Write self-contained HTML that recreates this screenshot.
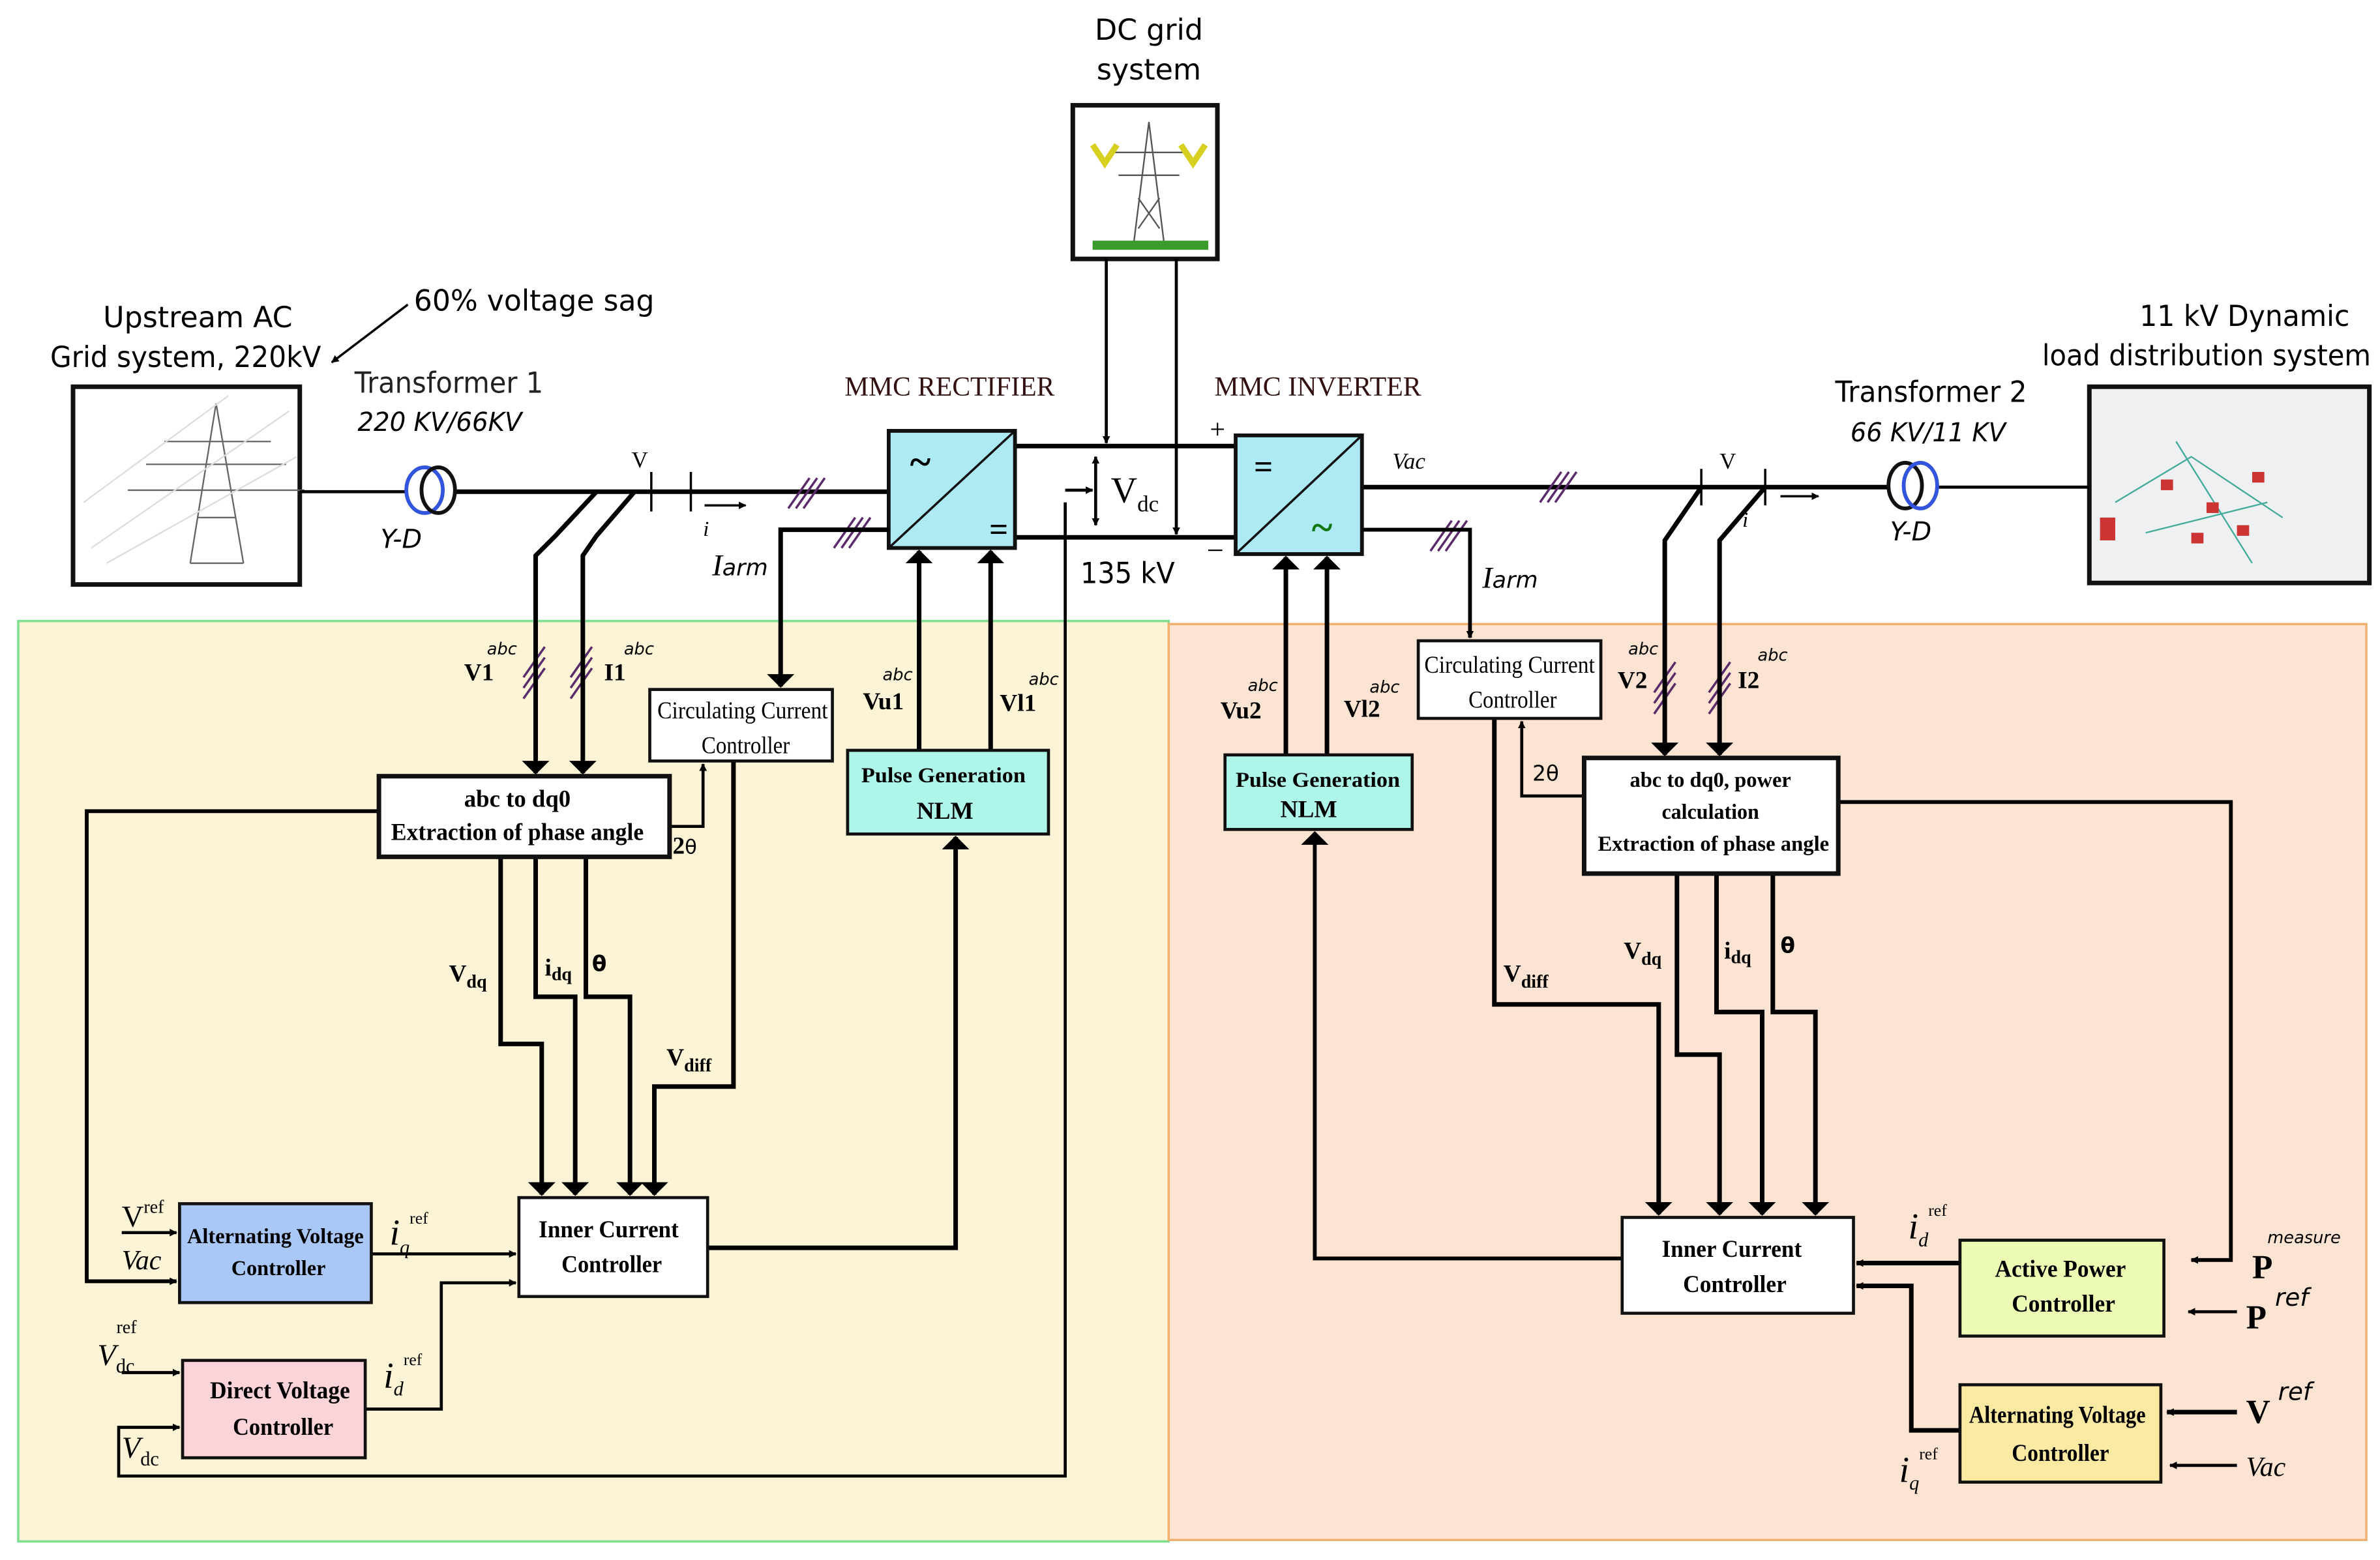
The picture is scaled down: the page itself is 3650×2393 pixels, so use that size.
<!DOCTYPE html>
<html><head><meta charset="utf-8"><style>
html,body{margin:0;padding:0;background:#fff}
svg{display:block}
text{font-family:"Liberation Serif",serif}
.s{font-family:"DejaVu Sans","Liberation Sans",sans-serif}
.b{font-weight:bold}
</style></head><body>
<svg width="3650" height="2393" viewBox="0 0 1564 1025" xmlns="http://www.w3.org/2000/svg">
<defs>
<marker id="a" viewBox="0 0 10 10" refX="9" refY="5" markerWidth="5" markerHeight="5" orient="auto-start-reverse" markerUnits="userSpaceOnUse"><path d="M0,0L10,5L0,10z" fill="#000"/></marker>
<marker id="A" viewBox="0 0 10 10" refX="9" refY="5" markerWidth="9" markerHeight="18" orient="auto-start-reverse" markerUnits="userSpaceOnUse" preserveAspectRatio="none"><path d="M0,0L10,5L0,10z" fill="#000"/></marker>
</defs>
<rect x="12" y="408" width="756" height="605" fill="#fdf3d6" stroke="#7ee08e" stroke-width="1.5"/>
<rect x="768" y="410" width="787" height="602" fill="#fde3d2" stroke="#f2b070" stroke-width="1.5"/>

<text x="755" y="26" font-size="19" text-anchor="middle" class="s">DC grid</text>
<text x="755" y="52" font-size="19" text-anchor="middle" class="s">system</text>
<rect x="705" y="69" width="95" height="101" fill="#fff" stroke="#111" stroke-width="3"/>
<g stroke="#555" stroke-width="1" fill="none"><path d="M755,80 L745,160 M755,80 L765,160 M730,100 L780,100 M735,115 L775,115 M748,130 L762,150 M762,130 L748,150"/></g>
<path d="M718,95 l8,12 l8,-12 M776,95 l8,12 l8,-12" stroke="#d8d020" stroke-width="4" fill="none"/>
<rect x="718" y="158" width="76" height="6" fill="#3a9a2a"/>

<text x="130" y="215" font-size="19" text-anchor="middle" class="s">Upstream AC</text>
<text x="122" y="241" font-size="19" text-anchor="middle" class="s" textLength="178" lengthAdjust="spacingAndGlyphs">Grid system, 220kV</text>
<text x="272" y="204" font-size="19" class="s" textLength="158" lengthAdjust="spacingAndGlyphs">60% voltage sag</text>
<line x1="268" y1="200" x2="218" y2="238" stroke="#000" stroke-width="1.5" marker-end="url(#a)"/>
<rect x="48" y="254" width="149" height="130" fill="#fff" stroke="#111" stroke-width="3"/>
<g stroke="#666" stroke-width="1" fill="none"><path d="M142,265 L125,370 M142,265 L160,370 M108,290 L178,290 M96,305 L188,305 M84,322 L200,322 M125,370 L160,370 M130,340 L155,340"/></g>
<g stroke="#ddd" stroke-width="1"><path d="M60,360 L190,270 M70,370 L195,300 M55,330 L150,260"/></g>

<text x="233" y="258" font-size="19" class="s" fill="#222" textLength="124" lengthAdjust="spacingAndGlyphs">Transformer 1</text>
<text x="235" y="283" font-size="17" class="s" font-style="italic" textLength="108" lengthAdjust="spacingAndGlyphs">220 KV/66KV</text>
<text x="250" y="360" font-size="17" class="s" font-style="italic">Y-D</text>
<text x="1206" y="264" font-size="19" class="s" textLength="126" lengthAdjust="spacingAndGlyphs">Transformer 2</text>
<text x="1216" y="290" font-size="17" class="s" font-style="italic" textLength="102" lengthAdjust="spacingAndGlyphs">66 KV/11 KV</text>
<text x="1242" y="355" font-size="17" class="s" font-style="italic">Y-D</text>
<text x="1475" y="214" font-size="19" text-anchor="middle" class="s" textLength="138" lengthAdjust="spacingAndGlyphs">11 kV Dynamic</text>
<text x="1450" y="240" font-size="19" text-anchor="middle" class="s" textLength="216" lengthAdjust="spacingAndGlyphs">load distribution system</text>
<rect x="1373" y="254" width="184" height="129" fill="#eef0f2" stroke="#111" stroke-width="3"/>
<g stroke="#4a9" stroke-width="1" fill="none"><path d="M1390,330 L1440,300 L1500,340 M1410,350 L1490,330 M1430,290 L1480,370"/></g>
<g fill="#c33"><rect x="1420" y="315" width="8" height="7"/><rect x="1450" y="330" width="8" height="7"/><rect x="1480" y="310" width="8" height="7"/><rect x="1440" y="350" width="8" height="7"/><rect x="1470" y="345" width="8" height="7"/><rect x="1380" y="340" width="10" height="15"/></g>

<g stroke="#000" fill="none">
<line x1="197" y1="323" x2="266" y2="323" stroke-width="2"/>
<line x1="298" y1="323" x2="584" y2="323" stroke-width="3"/>
<line x1="895" y1="320" x2="1240" y2="320" stroke-width="3"/>
<line x1="1273" y1="320" x2="1373" y2="320" stroke-width="2"/>
<line x1="667" y1="293" x2="812" y2="293" stroke-width="3"/>
<line x1="667" y1="353" x2="812" y2="353" stroke-width="3"/>
<line x1="428" y1="310" x2="428" y2="336" stroke-width="1.5"/>
<line x1="454" y1="310" x2="454" y2="336" stroke-width="1.5"/>
<line x1="1118" y1="308" x2="1118" y2="332" stroke-width="1.5"/>
<line x1="1160" y1="308" x2="1160" y2="332" stroke-width="1.5"/>
</g>
<ellipse cx="279" cy="322" rx="12" ry="15" fill="none" stroke="#3355dd" stroke-width="2.5"/>
<ellipse cx="288" cy="322" rx="11" ry="15" fill="none" stroke="#111" stroke-width="2.5"/>
<ellipse cx="1252" cy="319" rx="11" ry="15" fill="none" stroke="#111" stroke-width="2.5"/>
<ellipse cx="1262" cy="319" rx="11" ry="15" fill="none" stroke="#3355dd" stroke-width="2.5"/>
<line x1="463" y1="332" x2="490" y2="332" stroke="#000" stroke-width="1.5" marker-end="url(#a)"/>
<line x1="1170" y1="326" x2="1195" y2="326" stroke="#000" stroke-width="1.5" marker-end="url(#a)"/>
<text x="415" y="307" font-size="15">V</text><text x="462" y="352" font-size="14" font-style="italic">i</text>
<text x="1130" y="308" font-size="15">V</text><text x="1145" y="346" font-size="14" font-style="italic">i</text>

<rect x="584" y="283" width="83" height="77" fill="#aeeaf4" stroke="#111" stroke-width="2.5"/>
<line x1="584" y1="360" x2="667" y2="283" stroke="#111" stroke-width="1.5"/>
<text x="598" y="312" font-size="26" class="b">~</text><text x="650" y="355" font-size="22" class="b">=</text>
<rect x="812" y="286" width="83" height="78" fill="#aeeaf4" stroke="#111" stroke-width="2.5"/>
<line x1="812" y1="364" x2="895" y2="286" stroke="#111" stroke-width="1.5"/>
<text x="824" y="314" font-size="22" class="b">=</text><text x="862" y="355" font-size="26" class="b" fill="#117711">~</text>
<text x="555" y="260" font-size="18" fill="#331111" textLength="138" lengthAdjust="spacingAndGlyphs">MMC RECTIFIER</text>
<text x="798" y="260" font-size="18" fill="#331111" textLength="136" lengthAdjust="spacingAndGlyphs">MMC INVERTER</text>
<text x="795" y="288" font-size="18">+</text><text x="793" y="368" font-size="20">−</text>
<text x="730" y="330" font-size="24">V<tspan font-size="15" dy="6">dc</tspan></text>
<text x="710" y="383" font-size="19" class="s" textLength="62" lengthAdjust="spacingAndGlyphs">135 kV</text>
<text x="915" y="308" font-size="15" font-style="italic">Vac</text>
<text x="468" y="378" font-size="20" font-style="italic">I<tspan font-size="15" class="s">arm</tspan></text>
<text x="974" y="386" font-size="20" font-style="italic">I<tspan font-size="15" class="s">arm</tspan></text>

<g stroke="#000" stroke-width="2" fill="none">
<line x1="727" y1="170" x2="727" y2="291" marker-end="url(#a)"/>
<line x1="773" y1="170" x2="773" y2="351" marker-end="url(#a)"/>
<line x1="720" y1="300" x2="720" y2="345" marker-start="url(#a)" marker-end="url(#a)"/>
<polyline points="700,330 700,970 78,970 78,938 118,938" marker-end="url(#a)"/>
<line x1="700" y1="322" x2="718" y2="322" marker-end="url(#a)"/>
</g>

<g stroke="#5a2a6a" stroke-width="1.5">
<path d="M518,334 l14,-20 M523,334 l14,-20 M528,334 l14,-20"/>
<path d="M548,360 l14,-20 M553,360 l14,-20 M558,360 l14,-20"/>
<path d="M1012,330 l14,-20 M1017,330 l14,-20 M1022,330 l14,-20"/>
<path d="M940,362 l14,-20 M945,362 l14,-20 M950,362 l14,-20"/>
<path d="M344,445 l14,-20 M344,452 l14,-20 M344,459 l14,-20"/>
<path d="M375,445 l14,-20 M375,452 l14,-20 M375,459 l14,-20"/>
<path d="M1087,455 l14,-20 M1087,462 l14,-20 M1087,469 l14,-20"/>
<path d="M1123,455 l14,-20 M1123,462 l14,-20 M1123,469 l14,-20"/>
</g>

<g stroke="#000" stroke-width="3" fill="none">
<polyline points="392,323 365,352 352,365 352,508" marker-end="url(#A)"/>
<polyline points="417,323 392,352 383,365 383,508" marker-end="url(#A)"/>
<polyline points="584,348 513,348 513,451" marker-end="url(#A)"/>
<polyline points="329,563 329,686 356,686 356,785" marker-end="url(#A)"/>
<polyline points="352,563 352,655 378,655 378,785" marker-end="url(#A)"/>
<polyline points="385,563 385,655 414,655 414,785" marker-end="url(#A)"/>
<polyline points="482,500 482,714 430,714 430,785" marker-end="url(#A)"/>
<polyline points="604,493 604,362" marker-end="url(#A)"/>
<polyline points="651,493 651,362" marker-end="url(#A)"/>
<polyline points="465,820 628,820 628,550" marker-end="url(#A)"/>
<polyline points="249,533 57,533 57,842 116,842" stroke-width="2.5" marker-end="url(#a)"/>
</g>
<g stroke="#000" stroke-width="2" fill="none">
<polyline points="440,543 462,543 462,502" marker-end="url(#a)"/>
<line x1="244" y1="824" x2="339" y2="824" marker-end="url(#a)"/>
<polyline points="240,926 290,926 290,843 339,843" marker-end="url(#a)"/>
<line x1="80" y1="810" x2="116" y2="810" marker-end="url(#a)"/>
<line x1="80" y1="902" x2="118" y2="902" marker-end="url(#a)"/>
</g>

<g stroke="#000" stroke-width="3" fill="none">
<polyline points="895,348 966,348 966,419" stroke-width="2.5" marker-end="url(#a)"/>
<polyline points="1118,320 1094,355 1094,496" marker-end="url(#A)"/>
<polyline points="1160,320 1130,355 1130,496" marker-end="url(#A)"/>
<polyline points="1102,574 1102,693 1130,693 1130,798" marker-end="url(#A)"/>
<polyline points="1128,574 1128,665 1158,665 1158,798" marker-end="url(#A)"/>
<polyline points="1165,574 1165,665 1193,665 1193,798" marker-end="url(#A)"/>
<polyline points="982,472 982,660 1090,660 1090,798" marker-end="url(#A)"/>
<polyline points="845,496 845,366" marker-end="url(#A)"/>
<polyline points="872,496 872,366" marker-end="url(#A)"/>
<polyline points="1066,827 864,827 864,547" stroke-width="2.5" marker-end="url(#A)"/>
<polyline points="1208,527 1466,527 1466,828 1440,828" stroke-width="2.5" marker-end="url(#a)"/>
<line x1="1288" y1="830" x2="1220" y2="830" marker-end="url(#a)"/>
<polyline points="1288,940 1256,940 1256,845 1220,845" marker-end="url(#a)"/>
</g>
<g stroke="#000" stroke-width="2" fill="none">
<polyline points="1041,523 1000,523 1000,474" marker-end="url(#a)"/>
<line x1="1470" y1="862" x2="1438" y2="862" marker-end="url(#a)"/>
<line x1="1470" y1="928" x2="1424" y2="928" stroke-width="3" marker-end="url(#a)"/>
<line x1="1470" y1="963" x2="1426" y2="963" marker-end="url(#a)"/>
</g>

<g stroke="#111" stroke-width="3">
<rect x="249" y="510" width="191" height="53" fill="#fff"/>
<rect x="427" y="453" width="120" height="47" fill="#fff" stroke-width="2"/>
<rect x="557" y="493" width="132" height="55" fill="#aef6ea" stroke-width="2"/>
<rect x="341" y="787" width="124" height="65" fill="#fff" stroke-width="2"/>
<rect x="118" y="791" width="126" height="65" fill="#a9c8f8" stroke-width="2"/>
<rect x="120" y="894" width="120" height="64" fill="#fbd4da" stroke-width="2"/>
<rect x="932" y="421" width="120" height="51" fill="#fff" stroke-width="2"/>
<rect x="1041" y="498" width="167" height="76" fill="#fff"/>
<rect x="805" y="496" width="123" height="49" fill="#aef6ea" stroke-width="2"/>
<rect x="1066" y="800" width="152" height="63" fill="#fff" stroke-width="2"/>
<rect x="1288" y="815" width="134" height="63" fill="#ecfcb2" stroke-width="2"/>
<rect x="1288" y="910" width="132" height="64" fill="#fce9a2" stroke-width="2"/>
</g>
<g font-size="16" text-anchor="middle" font-weight="bold">
<text x="340" y="530" textLength="70" lengthAdjust="spacingAndGlyphs">abc to dq0</text>
<text x="340" y="552" textLength="166" lengthAdjust="spacingAndGlyphs">Extraction of phase angle</text>
<text x="488" y="472" font-weight="normal" textLength="112" lengthAdjust="spacingAndGlyphs">Circulating Current</text><text x="490" y="495" font-weight="normal" textLength="58" lengthAdjust="spacingAndGlyphs">Controller</text>
<text x="620" y="514" font-size="14" textLength="108" lengthAdjust="spacingAndGlyphs" font-family="Liberation Sans">Pulse Generation</text><text x="621" y="538">NLM</text>
<text x="400" y="813" textLength="92" lengthAdjust="spacingAndGlyphs">Inner Current</text><text x="402" y="836" textLength="66" lengthAdjust="spacingAndGlyphs">Controller</text>
<text x="181" y="817" font-size="14" textLength="116" lengthAdjust="spacingAndGlyphs">Alternating Voltage</text><text x="183" y="838" font-size="14" textLength="62" lengthAdjust="spacingAndGlyphs">Controller</text>
<text x="184" y="919" textLength="92" lengthAdjust="spacingAndGlyphs">Direct Voltage</text><text x="186" y="943" textLength="66" lengthAdjust="spacingAndGlyphs">Controller</text>
<text x="992" y="442" font-weight="normal" textLength="112" lengthAdjust="spacingAndGlyphs">Circulating Current</text><text x="994" y="465" font-weight="normal" textLength="58" lengthAdjust="spacingAndGlyphs">Controller</text>
<text x="1124" y="517" font-size="14" textLength="106" lengthAdjust="spacingAndGlyphs">abc to dq0, power</text>
<text x="1124" y="538" font-size="14" textLength="64" lengthAdjust="spacingAndGlyphs">calculation</text>
<text x="1126" y="559" font-size="14" textLength="152" lengthAdjust="spacingAndGlyphs">Extraction of phase angle</text>
<text x="866" y="517" font-size="14" textLength="108" lengthAdjust="spacingAndGlyphs" font-family="Liberation Sans">Pulse Generation</text><text x="860" y="537">NLM</text>
<text x="1138" y="826" textLength="92" lengthAdjust="spacingAndGlyphs">Inner Current</text><text x="1140" y="849" textLength="68" lengthAdjust="spacingAndGlyphs">Controller</text>
<text x="1354" y="839" textLength="86" lengthAdjust="spacingAndGlyphs">Active Power</text><text x="1356" y="862" textLength="68" lengthAdjust="spacingAndGlyphs">Controller</text>
<text x="1352" y="935" textLength="116" lengthAdjust="spacingAndGlyphs">Alternating Voltage</text><text x="1354" y="960" textLength="64" lengthAdjust="spacingAndGlyphs">Controller</text>
</g>

<g font-size="16">
<text x="305" y="447" class="b">V1</text><text x="320" y="430" font-size="11" class="s" font-style="italic">abc</text>
<text x="397" y="447" class="b">I1</text><text x="410" y="430" font-size="11" class="s" font-style="italic">abc</text>
<text x="442" y="561" class="b">2<tspan class="s" font-weight="normal" font-size="13">θ</tspan></text>
<text x="295" y="645" class="b">V<tspan font-size="12" dy="4">dq</tspan></text>
<text x="358" y="641" class="b">i<tspan font-size="12" dy="3">dq</tspan></text>
<text x="389" y="638" class="b s" font-size="14">θ</text>
<text x="438" y="700" class="b">V<tspan font-size="12" dy="4">diff</tspan></text>
<text x="567" y="466" class="b">Vu1</text><text x="580" y="447" font-size="11" class="s" font-style="italic">abc</text>
<text x="657" y="467" class="b">Vl1</text><text x="676" y="450" font-size="11" class="s" font-style="italic">abc</text>
<text x="80" y="806" font-size="20">V<tspan font-size="12" dy="-9">ref</tspan></text>
<text x="80" y="834" font-size="18" font-style="italic">Vac</text>
<text x="256" y="818" font-size="24" font-style="italic">i<tspan font-size="13" dy="6">q</tspan><tspan font-size="11" dy="-20" font-style="normal">ref</tspan></text>
<text x="64" y="897" font-size="20" font-style="italic">V<tspan font-size="13" dy="5" font-style="normal">dc</tspan><tspan font-size="12" dy="-26" dx="-12" font-style="normal">ref</tspan></text>
<text x="80" y="958" font-size="20" font-style="italic">V<tspan font-size="13" dy="5" font-style="normal">dc</tspan></text>
<text x="252" y="912" font-size="24" font-style="italic">i<tspan font-size="13" dy="5">d</tspan><tspan font-size="11" dy="-20" font-style="normal">ref</tspan></text>

<text x="1063" y="452" class="b">V2</text><text x="1070" y="430" font-size="11" class="s" font-style="italic">abc</text>
<text x="1142" y="452" class="b">I2</text><text x="1155" y="434" font-size="11" class="s" font-style="italic">abc</text>
<text x="1007" y="513" class="s" font-size="14">2θ</text>
<text x="988" y="645" class="b">V<tspan font-size="12" dy="4">diff</tspan></text>
<text x="1067" y="630" class="b">V<tspan font-size="12" dy="4">dq</tspan></text>
<text x="1133" y="630" class="b">i<tspan font-size="12" dy="3">dq</tspan></text>
<text x="1170" y="626" class="b s" font-size="14">θ</text>
<text x="802" y="472" class="b">Vu2</text><text x="820" y="454" font-size="11" class="s" font-style="italic">abc</text>
<text x="883" y="471" class="b">Vl2</text><text x="900" y="455" font-size="11" class="s" font-style="italic">abc</text>
<text x="1254" y="814" font-size="24" font-style="italic">i<tspan font-size="13" dy="5">d</tspan><tspan font-size="11" dy="-20" font-style="normal">ref</tspan></text>
<text x="1248" y="974" font-size="24" font-style="italic">i<tspan font-size="13" dy="5">q</tspan><tspan font-size="11" dy="-20" font-style="normal">ref</tspan></text>
<text x="1480" y="840" font-size="22" class="b">P</text><text x="1490" y="817" font-size="11" class="s" font-style="italic">measure</text>
<text x="1476" y="873" font-size="22" class="b">P</text><text x="1495" y="858" font-size="16" class="s" font-style="italic">ref</text>
<text x="1476" y="935" font-size="22" class="b">V</text><text x="1497" y="920" font-size="16" class="s" font-style="italic">ref</text>
<text x="1476" y="970" font-size="18" font-style="italic">Vac</text>
</g>
</svg>
</body></html>
